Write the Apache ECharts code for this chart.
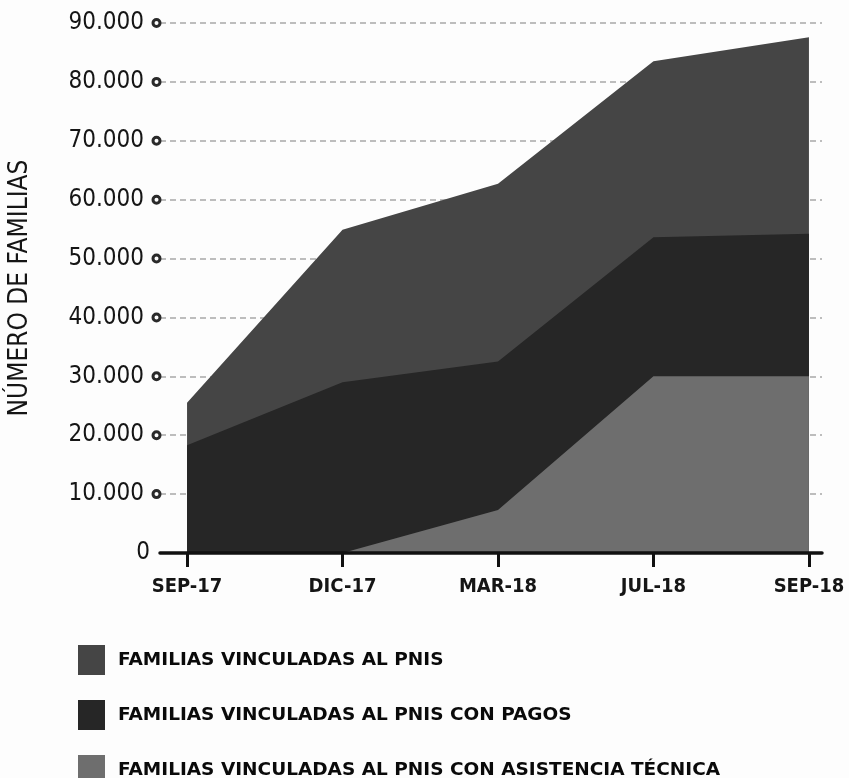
<!DOCTYPE html>
<html>
<head>
<meta charset="utf-8">
<script src="https://cdn.jsdelivr.net/npm/echarts@6/dist/echarts.min.js"></script>
<style>
html,body{margin:0;padding:0;background:#fdfdfd;}
#c{width:849px;height:778px;}
</style>
</head>
<body>
<div id="c"></div>
<script>
var categories = ['SEP-17', 'DIC-17', 'MAR-18', 'JUL-18', 'SEP-18'];
var seriesNames = [
  'FAMILIAS VINCULADAS AL PNIS',
  'FAMILIAS VINCULADAS AL PNIS CON PAGOS',
  'FAMILIAS VINCULADAS AL PNIS CON ASISTENCIA TÉCNICA'
];
var vinculadas = [25500, 54900, 62700, 83500, 87600];
var conPagos = [18300, 29000, 32500, 53600, 54200];
var conAsistencia = [0, 0, 7300, 30000, 30000];
var yTicks = [0, 10000, 20000, 30000, 40000, 50000, 60000, 70000, 80000, 90000];
var colors = ['#454545', '#262626', '#6e6e6e'];

var narrow = "'Liberation Sans Narrow', 'DejaVu Sans Condensed', sans-serif";

function pairs(arr) { return arr.map(function (v, i) { return [i, v]; }); }
function fmt(v) { return String(v).replace(/\B(?=(\d{3})+(?!\d))/g, '.'); }

var legendTops = [640, 695, 750];
var legends = seriesNames.map(function (n, i) {
  return {
    orient: 'vertical',
    left: 73,
    top: legendTops[i],
    itemWidth: 27,
    itemHeight: 30,
    icon: 'rect',
    selectedMode: false,
    data: [n],
    textStyle: {
      fontFamily: "'DejaVu Sans', sans-serif",
      fontWeight: 'bold',
      fontSize: 18.5,
      color: '#0a0a0a',
      padding: [0, 0, 0, 8]
    }
  };
});

var chart = echarts.init(document.getElementById('c'));
var data = [vinculadas, conPagos, conAsistencia];
chart.setOption({
  backgroundColor: '#fdfdfd',
  animation: false,
  grid: { left: 160, right: 27, top: 23, bottom: 225, containLabel: false, outerBoundsMode: 'none' },
  legend: legends,
  xAxis: {
    type: 'value',
    min: -0.174,
    max: 4.084,
    z: 10,
    splitLine: { show: false },
    axisLine: { show: true, lineStyle: { color: '#111', width: 3.5 } },
    axisTick: { show: true, customValues: [0, 1, 2, 3, 4], length: 14, lineStyle: { color: '#111', width: 3 } },
    axisLabel: {
      customValues: [0, 1, 2, 3, 4],
      formatter: function (v) { return categories[Math.round(v)]; },
      fontFamily: narrow,
      fontSize: 20,
      fontWeight: 'bold',
      color: '#151515',
      margin: 24
    }
  },
  yAxis: {
    type: 'value',
    min: 0,
    max: 90000,
    interval: 10000,
    name: 'NÚMERO DE FAMILIAS',
    nameLocation: 'middle',
    nameGap: 127,
    nameRotate: 90,
    nameTextStyle: { fontFamily: narrow, fontSize: 26, color: '#151515' },
    axisLine: { show: false },
    axisTick: { show: false },
    splitLine: { show: true, lineStyle: { color: '#a8a8a8', width: 1.5, type: [6, 4] } },
    axisLabel: {
      margin: 0,
      formatter: function (v) {
        if (v === 0) return '{z|0}';
        return '{v|' + fmt(v) + '}{c| }';
      },
      rich: {
        v: { fontFamily: narrow, fontSize: 24, color: '#151515', padding: [0, 9, 0, 0] },
        z: { fontFamily: narrow, fontSize: 24, color: '#151515', padding: [0, 10, 0, 0] },
        c: { width: 7, height: 7, borderColor: '#2a2a2a', borderWidth: 3, borderRadius: 7 }
      }
    }
  },
  series: data.map(function (arr, i) {
    return {
      name: seriesNames[i],
      type: 'line',
      data: pairs(arr),
      showSymbol: false,
      symbol: 'none',
      lineStyle: { width: 0 },
      itemStyle: { color: colors[i] },
      areaStyle: { color: colors[i], opacity: 1 },
      z: 2 + i
    };
  })
});
</script>
</body>
</html>
